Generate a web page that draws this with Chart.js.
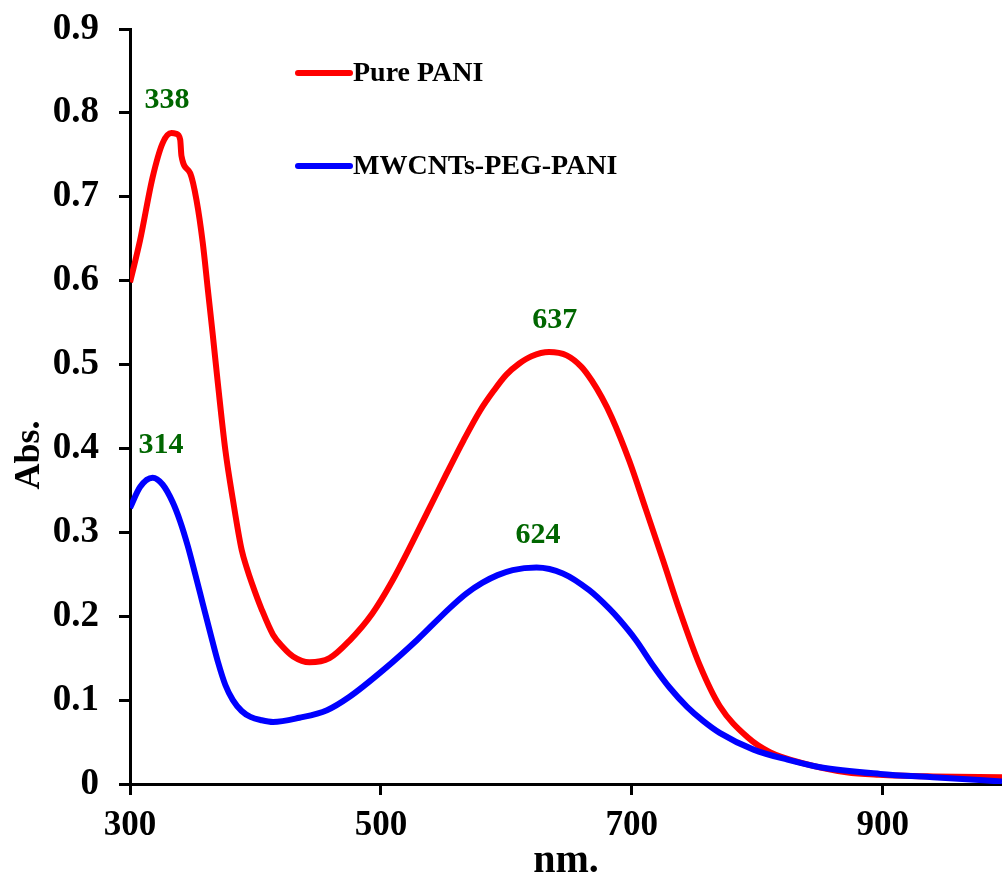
<!DOCTYPE html>
<html>
<head>
<meta charset="utf-8">
<script src="https://cdn.jsdelivr.net/npm/chart.js@4.4.0/dist/chart.umd.min.js"></script>
<style>
    html, body { margin: 0; padding: 0; background: #fff; }
    #wrap { width: 1002px; height: 884px; }
</style>
</head>
<body>
<div id="wrap"><canvas id="chart"></canvas></div>
<script>
// tick labels
const xTicks = [300, 500, 700, 900];
const yTicks = [0, 0.1, 0.2, 0.3, 0.4, 0.5, 0.6, 0.7, 0.8, 0.9];

// Pure PANI
const paniNm = [300, 308, 318, 326, 333, 337, 340, 341, 348, 353, 358, 362, 366, 370, 376, 382, 389, 393, 397, 405, 414, 422, 430, 443, 459, 475, 493, 509, 525, 539, 552, 566, 579, 590, 600, 610, 620, 634, 648, 660, 668, 676, 684, 698, 711, 725, 738, 754, 770, 792, 810, 836, 871, 897, 940, 995];
const paniAbs = [0.598, 0.648, 0.723, 0.764, 0.776, 0.775, 0.768, 0.749, 0.728, 0.696, 0.645, 0.590, 0.535, 0.478, 0.398, 0.339, 0.279, 0.258, 0.240, 0.208, 0.178, 0.163, 0.152, 0.145, 0.150, 0.171, 0.203, 0.242, 0.288, 0.330, 0.369, 0.410, 0.445, 0.469, 0.488, 0.501, 0.510, 0.515, 0.511, 0.497, 0.481, 0.461, 0.437, 0.385, 0.328, 0.266, 0.207, 0.142, 0.093, 0.056, 0.038, 0.025, 0.014, 0.011, 0.009, 0.008];

// MWCNTs-PEG-PANI
const mwcntNm = [300, 308, 318, 326, 334, 340, 346, 352, 358, 364, 370, 376, 382, 389, 396, 405, 414, 435, 457, 475, 502, 529, 555, 568, 581, 593, 605, 624, 645, 666, 682, 690, 703, 717, 730, 744, 757, 770, 797, 824, 850, 898, 940, 995];
const mwcntAbs = [0.329, 0.354, 0.365, 0.357, 0.336, 0.313, 0.284, 0.250, 0.215, 0.180, 0.146, 0.118, 0.100, 0.087, 0.080, 0.076, 0.074, 0.079, 0.088, 0.104, 0.136, 0.172, 0.210, 0.227, 0.240, 0.249, 0.255, 0.258, 0.251, 0.231, 0.209, 0.196, 0.172, 0.141, 0.115, 0.092, 0.075, 0.061, 0.041, 0.029, 0.020, 0.012, 0.008, 0.003];

const seriesNames = ["Pure PANI", "MWCNTs-PEG-PANI"];
const seriesColors = ["#ff0000", "#0000ff"];

const peakTexts = ["338", "314", "637", "624"];
const peakTextAt = [[329.5, 0.815], [324.7, 0.404], [638.6, 0.553], [625.1, 0.296]];

const serif = "'Liberation Serif', 'Times New Roman', serif";

function toPoints(xs, ys) {
    return xs.map((x, i) => ({ x, y: ys[i] }));
}

const overlay = {
    id: "overlay",
    afterDatasetsDraw(chart) {
        const { ctx, chartArea, scales } = chart;
        ctx.save();

        // peak labels
        ctx.font = `bold 30px ${serif}`;
        ctx.fillStyle = "#006600";
        ctx.textAlign = "center";
        ctx.textBaseline = "middle";
        peakTexts.forEach((t, i) => {
            ctx.fillText(t, scales.x.getPixelForValue(peakTextAt[i][0]), scales.y.getPixelForValue(peakTextAt[i][1]));
        });

        // legend
        const lx = chartArea.left + 168;
        let ly = chartArea.top + 44;
        ctx.font = `bold 28px ${serif}`;
        ctx.fillStyle = "#000";
        ctx.textAlign = "left";
        ctx.lineWidth = 6;
        ctx.lineCap = "round";
        seriesNames.forEach((name, i) => {
            ctx.strokeStyle = seriesColors[i];
            ctx.beginPath();
            ctx.moveTo(lx, ly);
            ctx.lineTo(lx + 52, ly);
            ctx.stroke();
            ctx.fillText(name, lx + 55, ly + 1);
            ly += 93;
        });

        // y axis title
        ctx.font = `bold 36px ${serif}`;
        ctx.textAlign = "center";
        ctx.translate(30, chartArea.top + 426);
        ctx.rotate(-Math.PI / 2);
        ctx.fillText("Abs.", 0, 0);
        ctx.restore();
    }
};

new Chart(document.getElementById("chart"), {
    type: "line",
    data: {
        datasets: [
            {
                label: seriesNames[1],
                data: toPoints(mwcntNm, mwcntAbs),
                borderColor: seriesColors[1],
                borderWidth: 6,
                pointRadius: 0,
                cubicInterpolationMode: "monotone",
                fill: false
            },
            {
                label: seriesNames[0],
                data: toPoints(paniNm, paniAbs),
                borderColor: seriesColors[0],
                borderWidth: 6,
                pointRadius: 0,
                cubicInterpolationMode: "monotone",
                fill: false
            }
        ]
    },
    options: {
        responsive: true,
        maintainAspectRatio: false,
        animation: false,
        layout: { padding: { left: 0, right: 0, top: 29, bottom: 0 } },
        plugins: { legend: { display: false }, tooltip: { enabled: false } },
        scales: {
            x: {
                type: "linear",
                min: 300,
                max: 995,
                afterBuildTicks: (scale) => { scale.ticks = xTicks.map((v) => ({ value: v })); },
                afterFit: (scale) => { scale.height = 100; scale.paddingLeft = 0; scale.paddingRight = 0; },
                grid: { drawOnChartArea: false, drawTicks: true, tickLength: 11, tickWidth: 3, tickColor: "#000" },
                border: { display: true, color: "#000", width: 3 },
                ticks: { color: "#000", padding: 10, maxRotation: 0, font: { family: serif, size: 35, weight: "bold" } },
                title: { display: true, text: "nm.", color: "#000", padding: { top: 0, bottom: 0 }, font: { family: serif, size: 40, weight: "bold", lineHeight: 1.1 } }
            },
            y: {
                min: 0,
                max: 0.9,
                afterBuildTicks: (scale) => { scale.ticks = yTicks.map((v) => ({ value: v })); },
                afterFit: (scale) => { scale.width = 130; scale.paddingTop = 0; scale.paddingBottom = 0; },
                grid: { drawOnChartArea: false, drawTicks: true, tickLength: 11, tickWidth: 3, tickColor: "#000" },
                border: { display: true, color: "#000", width: 3 },
                ticks: {
                    color: "#000",
                    padding: 20,
                    font: { family: serif, size: 37, weight: "bold" },
                    callback: (v) => (v === 0 ? "0" : v.toFixed(1))
                }
            }
        }
    },
    plugins: [overlay]
});
</script>
</body>
</html>
